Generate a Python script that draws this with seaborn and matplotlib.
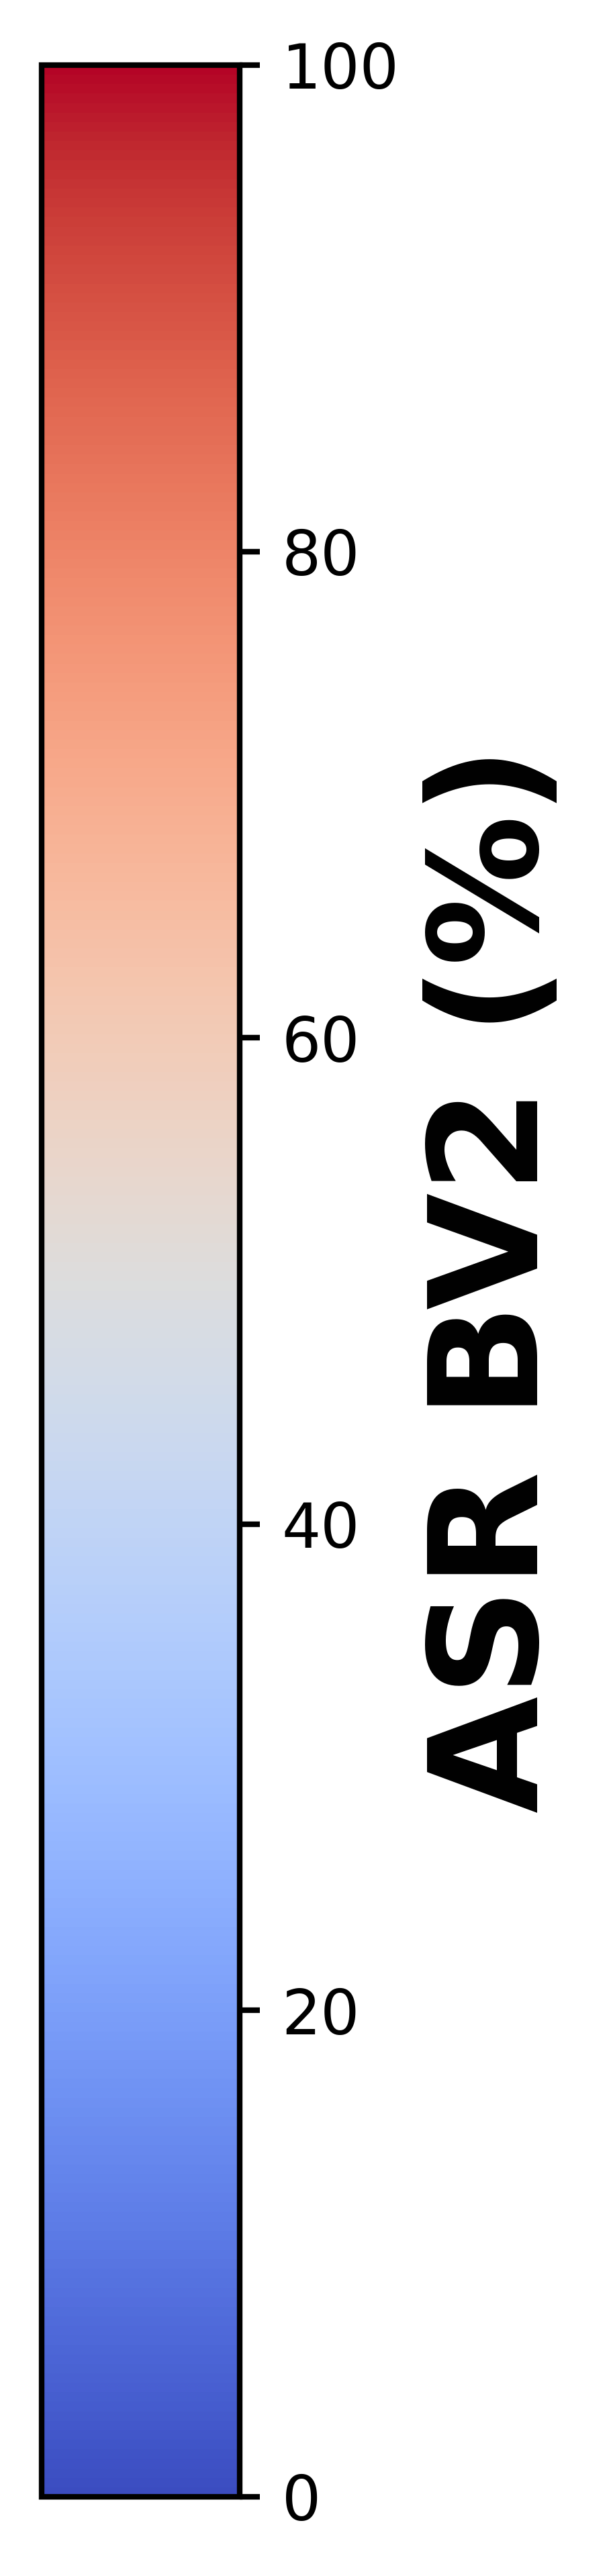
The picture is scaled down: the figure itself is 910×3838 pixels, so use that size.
import numpy as np
import matplotlib
matplotlib.use("Agg")
import matplotlib.pyplot as plt
import seaborn as sns

# data
vmin = 0
vmax = 100
cbar_ticks = [0, 20, 40, 60, 80, 100]
cbar_ticklabels = ["0", "20", "40", "60", "80", "100"]
cbar_label = "ASR BV2 (%)"
cmap_name = "coolwarm"

sns.set_style("white")
plt.rcParams['font.family'] = ['DejaVu Sans']

DPI = 600
fig = plt.figure(figsize=(910 / DPI, 3838 / DPI), dpi=DPI)
fig.patch.set_facecolor("white")

# hidden host axes for the heatmap; only its colorbar is shown
host = fig.add_axes([0, 0, 0.01, 0.01])
cax = fig.add_axes([62 / 910, 118 / 3838, 295 / 910, 3623 / 3838])

data = np.array([[vmin, vmax]], dtype=float)
sns.heatmap(data, ax=host, cmap=cmap_name, vmin=vmin, vmax=vmax,
            cbar=True, cbar_ax=cax,
            cbar_kws={"ticks": cbar_ticks})
host.set_visible(False)

cbar = host.collections[0].colorbar
cbar.set_ticks(cbar_ticks)
cbar.set_ticklabels(cbar_ticklabels)
cbar.outline.set_visible(True)
cbar.outline.set_edgecolor("black")
cbar.outline.set_linewidth(1.0)
cax.tick_params(axis="y", which="major", length=3.6, width=1.0, pad=3.9,
                labelsize=11, colors="black", right=True, left=False)

fig.text(739 / 910, 1 - 1906 / 3838, cbar_label, rotation=90,
         ha="center", va="center", fontsize=27, fontweight="bold",
         color="black")

fig.savefig("out.png", dpi=DPI, facecolor="white")
